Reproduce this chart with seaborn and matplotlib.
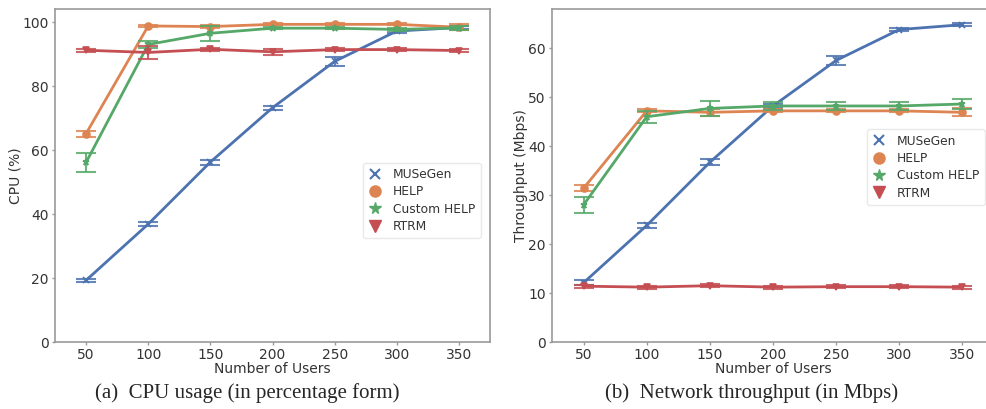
import numpy as np
import pandas as pd
import matplotlib
matplotlib.use("Agg")
import matplotlib.pyplot as plt
from matplotlib.lines import Line2D
import seaborn as sns

users = [50, 100, 150, 200, 250, 300, 350]
methods = ["MUSeGen", "HELP", "Custom HELP", "RTRM"]

cpu_musegen = [19.3, 36.9, 56.3, 73.3, 87.8, 97.3, 98.4]
cpu_help = [65.2, 98.9, 98.7, 99.4, 99.4, 99.4, 98.5]
cpu_custom = [56.2, 93.1, 96.6, 98.2, 98.2, 97.8, 98.3]
cpu_rtrm = [91.3, 90.6, 91.6, 90.8, 91.5, 91.5, 91.2]

cpu_musegen_err = [0.5, 0.6, 0.8, 0.7, 1.5, 0.6, 0.4]
cpu_help_err = [0.9, 0.3, 0.5, 0.3, 0.3, 0.3, 0.9]
cpu_custom_err = [3.0, 1.2, 2.3, 0.4, 0.4, 0.5, 0.6]
cpu_rtrm_err = [0.4, 1.9, 0.4, 1.0, 0.4, 0.4, 0.6]

tp_musegen = [12.1, 23.8, 36.7, 48.2, 57.5, 63.8, 64.8]
tp_help = [31.4, 47.2, 46.9, 47.2, 47.2, 47.2, 46.9]
tp_custom = [28.0, 46.0, 47.7, 48.2, 48.2, 48.2, 48.6]
tp_rtrm = [11.4, 11.2, 11.5, 11.2, 11.3, 11.3, 11.2]

tp_musegen_err = [0.5, 0.6, 0.6, 0.4, 1.0, 0.3, 0.3]
tp_help_err = [0.6, 0.3, 0.7, 0.3, 0.3, 0.3, 0.8]
tp_custom_err = [1.7, 1.2, 1.5, 0.8, 0.9, 0.9, 1.0]
tp_rtrm_err = [0.3, 0.3, 0.3, 0.3, 0.3, 0.3, 0.3]

sns.set_theme(style="white")
palette = sns.color_palette("deep", 4)
colors = dict(zip(methods, palette))
markers = dict(zip(methods, ["x", "o", "*", "v"]))

def long_df(vals, errs):
    rows = []
    for m, v, e in zip(methods, vals, errs):
        for u, vi, ei in zip(users, v, e):
            rows.append({"users": u, "value": vi, "err": ei, "method": m})
    return pd.DataFrame(rows)

cpu_df = long_df([cpu_musegen, cpu_help, cpu_custom, cpu_rtrm],
                 [cpu_musegen_err, cpu_help_err, cpu_custom_err, cpu_rtrm_err])
tp_df = long_df([tp_musegen, tp_help, tp_custom, tp_rtrm],
                [tp_musegen_err, tp_help_err, tp_custom_err, tp_rtrm_err])

fig = plt.figure(figsize=(9.86, 4.09), dpi=100)
W, H = 986, 409
ax1 = fig.add_axes([55 / W, 1 - 342 / H, 435 / W, 333 / H])
ax2 = fig.add_axes([552 / W, 1 - 342 / H, 442 / W, 333 / H])

def draw(ax, df, ylim, yticks, ylabel, legend_y):
    for m in methods:
        sub = df[df.method == m]
        sns.lineplot(data=sub, x="users", y="value", color=colors[m],
                     marker=markers[m], markersize=5, linewidth=2,
                     markeredgewidth=1.2, markeredgecolor=colors[m],
                     errorbar=None, ax=ax)
        ax.errorbar(sub.users, sub.value, yerr=sub.err, fmt="none",
                    ecolor=colors[m], elinewidth=1.5, capsize=7, capthick=1.5,
                    alpha=0.85)
    ax.set_xlim(25, 375)
    ax.set_ylim(*ylim)
    ax.set_xticks(users)
    ax.set_yticks(yticks)
    ax.set_xlabel("Number of Users", fontsize=10, color="#333333", labelpad=0)
    ax.set_ylabel(ylabel, fontsize=10, color="#333333", labelpad=0)
    ax.tick_params(axis="both", labelsize=10, labelcolor="#333333",
                   color="#999999", length=2.5, width=1, direction="out",
                   bottom=True, left=True, pad=2)
    for s in ax.spines.values():
        s.set_color("#999999")
        s.set_linewidth(1.2)
    handles = [Line2D([], [], linestyle="none", marker=markers[m],
                      color=colors[m],
                      markersize={"MUSeGen": 7, "HELP": 8, "Custom HELP": 8.5,
                                  "RTRM": 8}[m],
                      markeredgewidth=1.5 if m == "MUSeGen" else 1)
               for m in methods]
    ax.legend(handles, methods, loc="center right",
              bbox_to_anchor=(0.987, legend_y), fontsize=8.8,
              frameon=True, edgecolor="#e4e4e4", labelspacing=0.35,
              handletextpad=0.9, borderpad=0.45, handlelength=1.1,
              borderaxespad=0.3)
    leg = ax.get_legend()
    for t in leg.get_texts():
        t.set_color("#333333")

draw(ax1, cpu_df, (0, 104.2), [0, 20, 40, 60, 80, 100], "CPU (%)", 0.425)
draw(ax2, tp_df, (0, 68), [0, 10, 20, 30, 40, 50, 60], "Throughput (Mbps)", 0.525)

fig.text(247 / W, 1 - 393 / H, "(a)  CPU usage (in percentage form)",
         ha="center", va="center", family="Liberation Serif", fontsize=15)
fig.text(752 / W, 1 - 393 / H, "(b)  Network throughput (in Mbps)",
         ha="center", va="center", family="Liberation Serif", fontsize=15)

fig.savefig("out.png", dpi=100)
